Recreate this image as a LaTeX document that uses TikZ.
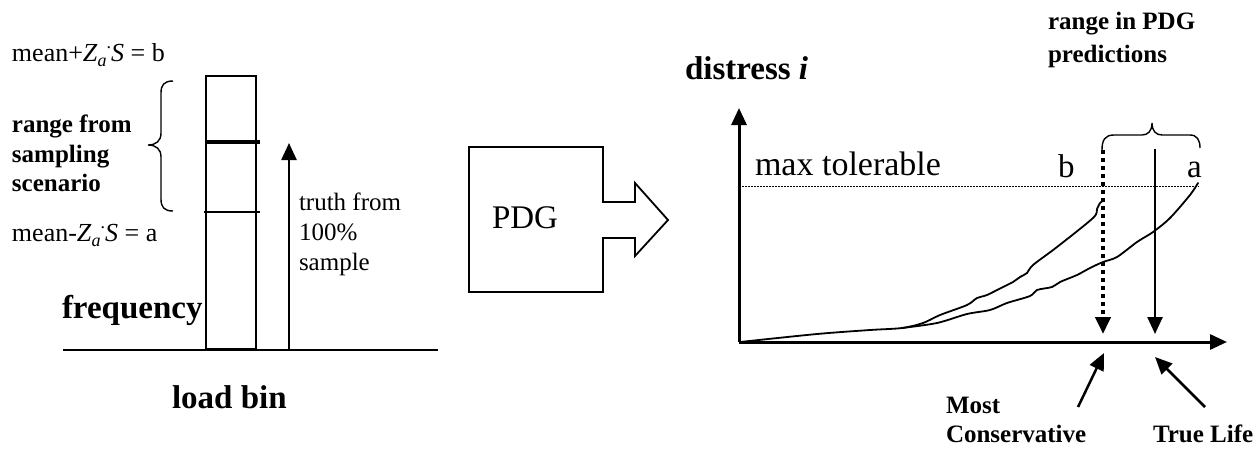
\documentclass[tikz,border=0pt]{standalone}
\usepackage{fontspec}
\setmainfont{Liberation Serif}
\usetikzlibrary{arrows.meta}

% subscript a and raised dot after Z
\newcommand{\zsub}{\textit{Z}\raisebox{-0.22em}{\fontsize{18}{18}\selectfont\textit{a}}\raisebox{0.5em}{\fontsize{18}{18}\selectfont .}\textit{S}}

\begin{document}
\begin{tikzpicture}[x=1pt,y=-1pt,
  txt/.style={anchor=base west, inner sep=0pt, outer sep=0pt},
  bigfont/.style={font=\fontsize{33}{38}\selectfont},
  bigbold/.style={font=\fontsize{33}{38}\selectfont\bfseries},
  smallfont/.style={font=\fontsize{25}{30}\selectfont},
  smallbold/.style={font=\fontsize{25}{30}\selectfont\bfseries},
  headtip/.style={-{Triangle[width=15pt,length=17pt]}},
  axis/.style={line width=3pt, headtip},
  thin/.style={line width=1.6pt},
  curve/.style={line width=1.8pt, line join=round, line cap=round},
]
\useasboundingbox (0,0) rectangle (1260,448);

% ---------- left: frequency histogram ----------
\draw[thin] (63,350) -- (438,350);
\draw[thin] (206,76) rectangle (256,349);
\draw[line width=4pt] (206,142) -- (260,142);
\draw[line width=1.3pt] (204,212) -- (260,212);
\coordinate (tb) at (289,350);
\coordinate (tt) at (289,143);
\draw[line width=2.5pt, headtip] (tb) -- (tt);

% brace left of the bin
\draw[line width=1.4pt] (173,81) .. controls (164,81) and (161,85) .. (161,93)
  -- (161,133) .. controls (161,141) and (156,145) .. (148,145)
  .. controls (156,145) and (161,149) .. (161,157)
  -- (161,199) .. controls (161,207) and (164,211) .. (173,211);

\node[txt, font=\fontsize{26}{30}\selectfont] (meanb) at (12,61) {mean+\zsub{} = b};
\node[txt, font=\fontsize{26}{30}\selectfont] (meana) at (12,241) {mean-\zsub{} = a};
\node[txt, smallbold] (rf1) at (12,132) {range from};
\node[txt, smallbold] (rf2) at (12,162) {sampling};
\node[txt, smallbold] (rf3) at (12,191) {scenario};
\node[txt, smallfont] (tr1) at (299,210) {truth from};
\node[txt, smallfont] (tr2) at (299,240) {100\%};
\node[txt, smallfont] (tr3) at (299,270) {sample};
\node[txt, bigbold] (freq) at (62,318) {frequency};
\node[txt, bigbold] (load) at (172,408) {load bin};

% ---------- PDG block arrow ----------
\draw[line width=1.8pt, line join=miter] (469,147) -- (603,147) -- (603,202) -- (635,202)
  -- (635,183) -- (668,220) -- (635,256) -- (635,238) -- (603,238) -- (603,292)
  -- (469,292) -- cycle;
\node[txt, bigfont] (pdg) at (492,228) {PDG};

% ---------- right: distress vs time ----------
\coordinate (org) at (739,342);
\coordinate (ytip) at (739,108);
\coordinate (xtip) at (1227,342);
\draw[axis] (org) -- (ytip);
\draw[axis] (org) -- (xtip);
\node[txt, bigbold] (dist) at (685,79) {distress \textit{i}};

\draw[line width=1pt, dash pattern=on 1.5pt off 1.5pt] (742,186) -- (1199,186);
\node[txt, font=\fontsize{34}{40}\selectfont] (maxt) at (755,175) {max tolerable};
\node[txt, bigfont] (lb) at (1058,177) {b};
\node[txt, bigfont] (la) at (1187,177) {a};

% prediction b
\draw[curve] plot[smooth, tension=0.5] coordinates {
  (740,342) (817,334) (870,330) (902,328) (923,323) (940,315) (967,305)
  (977,298) (987,295) (1003,287) (1013,282) (1020,277) (1027,273) (1033,265)
  (1057,247) (1093,218) (1097,209) (1100,203) (1104,200)};
% prediction a
\draw[curve] plot[smooth, tension=0.5] coordinates {
  (902,328) (937,323) (967,314) (990,310) (1007,303) (1030,296) (1037,290)
  (1052,287) (1060,282) (1077,275) (1090,268) (1103,262) (1117,257)
  (1137,242) (1153,232) (1170,218) (1190,195) (1198,183)};

% life markers
\coordinate (bt) at (1103,150);
\coordinate (bb) at (1103,334);
\coordinate (at) at (1155,149);
\coordinate (ab) at (1155,334);
\draw[line width=4pt, dash pattern=on 4pt off 4pt, headtip] (bt) -- (bb);
\draw[line width=2.5pt, headtip] (at) -- (ab);

% brace over the range
\draw[line width=1.4pt] (1102,150) .. controls (1102,140) and (1105,135) .. (1114,135)
  -- (1142,135) .. controls (1148,135) and (1152,131) .. (1152,123)
  .. controls (1152,131) and (1156,135) .. (1162,135)
  -- (1190,135) .. controls (1197,135) and (1200,140) .. (1200,148);
\node[txt, smallbold] (rp1) at (1048,29) {range in PDG};
\node[txt, smallbold] (rp2) at (1048,62) {predictions};

% labels under the axis
\node[txt, smallbold] (most1) at (946,413) {Most};
\node[txt, smallbold] (most2) at (946,442) {Conservative};
\node[txt, smallbold] (true) at (1153,442) {True Life};
\coordinate (mtail) at (1078,407);
\coordinate (mtip) at (1104,353);
\coordinate (ttail) at (1205,407);
\coordinate (ttip) at (1155,357);
\draw[line width=2.5pt, headtip] (mtail) -- (mtip);
\draw[line width=2.5pt, headtip] (ttail) -- (ttip);
\end{tikzpicture}
\end{document}
